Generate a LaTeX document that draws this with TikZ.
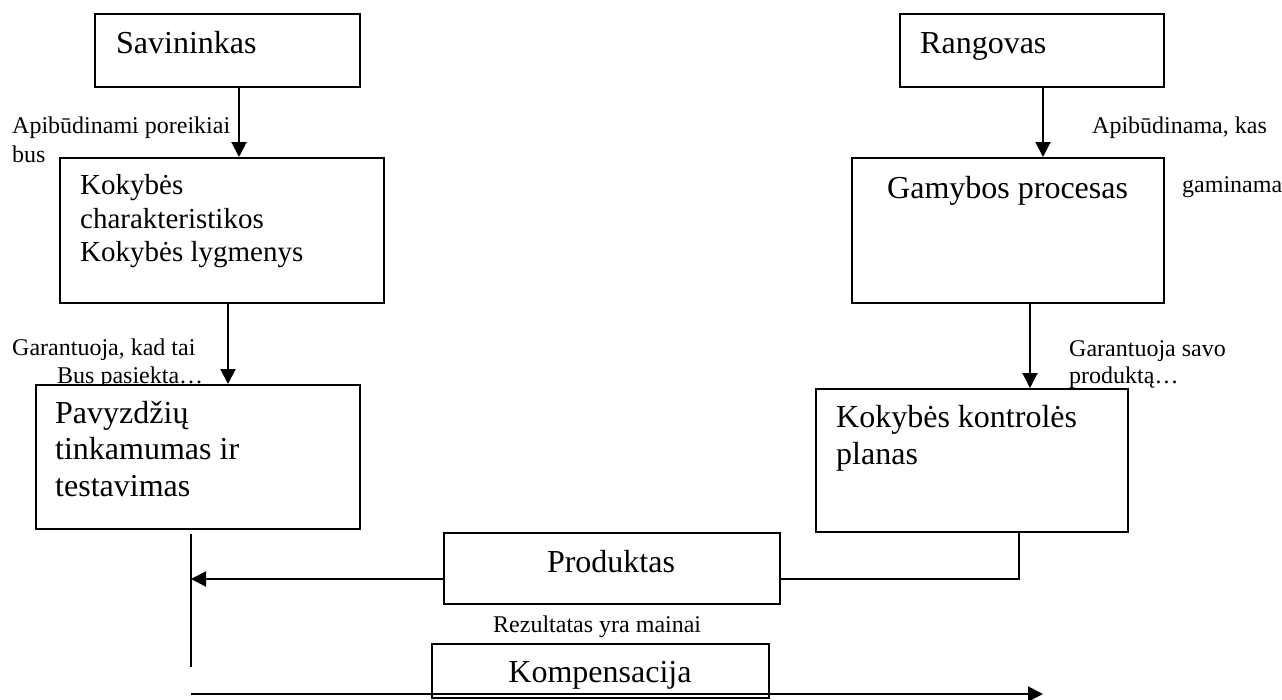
\documentclass[tikz,border=0pt]{standalone}
\usepackage{fontspec}
\setmainfont{Liberation Serif}
\usetikzlibrary{arrows.meta}
\begin{document}
\begin{tikzpicture}[x=1pt,y=-1pt,
  box/.style={draw, line width=2pt, fill=white, inner sep=0pt, anchor=north west},
  big/.style={font=\fontsize{32}{36}\selectfont, inner sep=0pt, anchor=base west},
  mid/.style={font=\fontsize{29}{33}\selectfont, inner sep=0pt, anchor=base west},
  small/.style={font=\fontsize{24}{29}\selectfont, inner sep=0pt, anchor=base west},
  link/.style={line width=2pt},
  arr/.style={link, -{Triangle[length=15pt,width=15pt]}}]
\useasboundingbox (0,0) rectangle (1282,699);

% side labels (drawn first so the boxes cover their lower edges)
\node[small] (l1a) at (12,133) {Apibūdinami poreikiai};
\node[small] (l1b) at (12,162) {bus};
\node[small] (l2a) at (12,355) {Garantuoja, kad tai};
\node[small] (l2b) at (57,383) {Bus pasiekta…};
\node[small] (r1a) at (1092,133) {Apibūdinama, kas};
\node[small] (r1b) at (1182,192) {gaminama};
\node[small] (r2a) at (1069,356) {Garantuoja savo};
\node[small] (r2b) at (1069,383) {produktą…};
\node[small] (res) at (493,632) {Rezultatas yra mainai};

% boxes
\node[box, minimum width=265pt, minimum height=73pt]  (sav)  at (94,13)   {};
\node[box, minimum width=324pt, minimum height=145pt] (kok1) at (59,157)  {};
\node[box, minimum width=324pt, minimum height=144pt] (pav)  at (35,384)  {};
\node[box, minimum width=264pt, minimum height=73pt]  (rang) at (899,13)  {};
\node[box, minimum width=312pt, minimum height=145pt] (gam)  at (851,157) {};
\node[box, minimum width=312pt, minimum height=143pt] (kkp)  at (815,388) {};
\node[box, minimum width=336pt, minimum height=71pt]  (prod) at (443,532) {};
\node[box, minimum width=337pt, minimum height=54pt]  (komp) at (431,643) {};

% box texts
\node[big] (t1)  at (116,53)  {Savininkas};
\node[mid] (t2a) at (80,194)  {Kokybės};
\node[mid] (t2b) at (80,228)  {charakteristikos};
\node[mid] (t2c) at (80,261)  {Kokybės lygmenys};
\node[big] (t3a) at (55,423)  {Pavyzdžių};
\node[big] (t3b) at (55,459)  {tinkamumas ir};
\node[big] (t3c) at (55,496)  {testavimas};
\node[big] (t4)  at (920,53)  {Rangovas};
\node[big] (t5)  at (887,198) {Gamybos procesas};
\node[big] (t6a) at (836,427) {Kokybės kontrolės};
\node[big] (t6b) at (836,464) {planas};
\node[big, anchor=base] (t7) at (611,572) {Produktas};
\node[big, anchor=base] (t8) at (600,682) {Kompensacija};

% connectors
\coordinate (xa) at (239,0);
\coordinate (xb) at (228,0);
\coordinate (xc) at (1043,0);
\coordinate (xd) at (1030,0);
\coordinate (xe) at (1019,0);
\coordinate (join) at (191,579);
\coordinate (vbot) at (191,667);
\coordinate (bl) at (191,694);
\coordinate (br) at (1043,694);

\draw[arr] (sav.south -| xa) -- (kok1.north -| xa);
\draw[arr] (kok1.south -| xb) -- (pav.north -| xb);
\draw[arr] (rang.south -| xc) -- (gam.north -| xc);
\draw[arr] (gam.south -| xd) -- (kkp.north -| xd);
\draw[arr] (prod.west |- join) -- (join);
\draw[link] (prod.east |- join) -| (kkp.south -| xe);
\draw[link] ([yshift=-4pt]pav.south -| vbot) -- (vbot);
\draw[arr] (bl) -- (br);
\end{tikzpicture}
\end{document}
